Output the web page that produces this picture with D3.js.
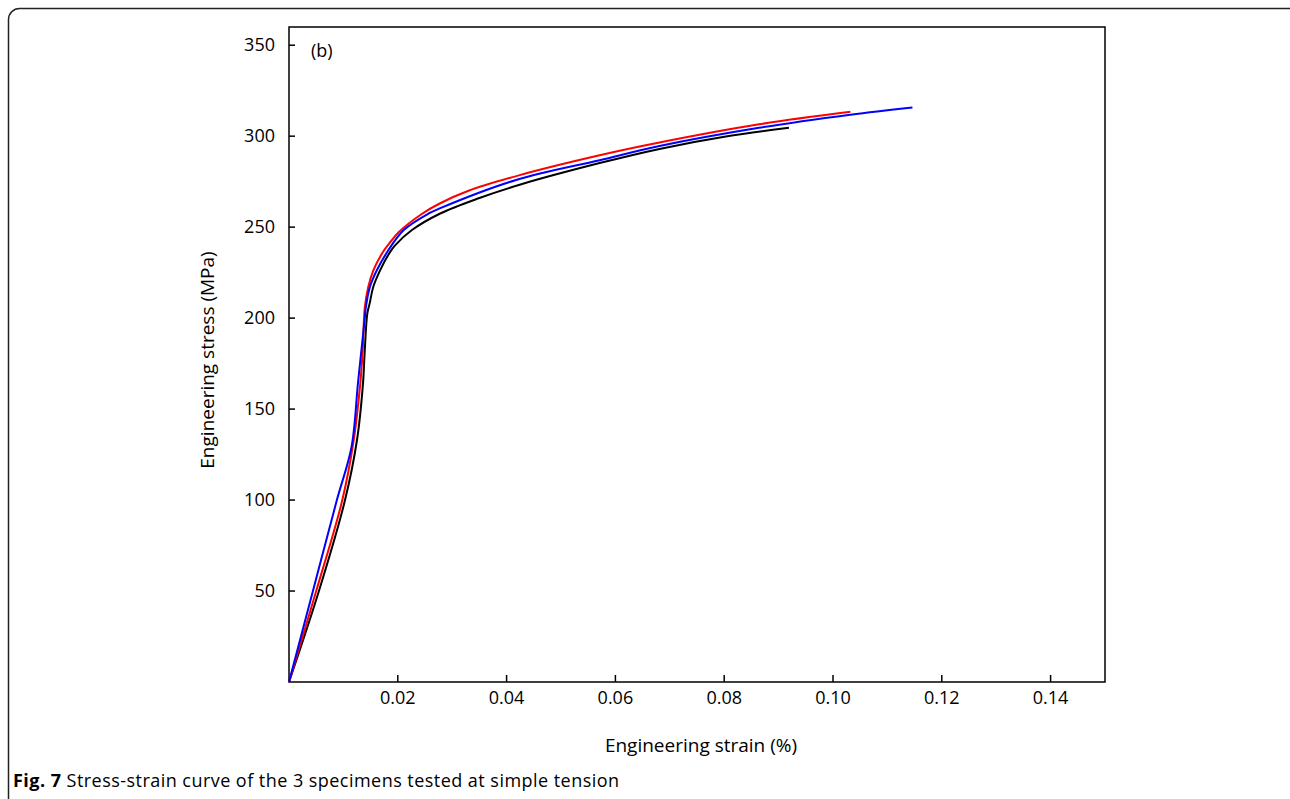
<!DOCTYPE html>
<html>
<head>
<meta charset="utf-8">
<script src="https://cdn.jsdelivr.net/npm/d3@7"></script>
<style>
  html, body { margin: 0; padding: 0; background: #fff; }
  svg { display: block; }
  text { font-family: "Open Sans", "Liberation Sans", sans-serif; fill: #000; }
</style>
</head>
<body>
<svg id="chart" width="1290" height="799"></svg>
<script>
// ---- data (strain, stress) ----
const blackStrain = [0, 0.0055, 0.0103, 0.0125, 0.0136, 0.0139, 0.0144, 0.01486, 0.01547, 0.0167, 0.0185, 0.0195, 0.0226, 0.0278, 0.0350, 0.0424, 0.0571, 0.0681, 0.0803, 0.0919];
const blackStress = [0, 50, 100, 133, 164, 180.6, 202.6, 208.5, 217, 226, 236, 240, 248.4, 257.5, 266, 273.3, 285.2, 293, 299.8, 304.6];

const redStrain = [0, 0.0050, 0.0098, 0.0119, 0.0131, 0.01352, 0.01394, 0.01456, 0.01547, 0.0173, 0.0185, 0.0202, 0.0244, 0.0277, 0.0330, 0.0424, 0.0571, 0.0681, 0.0864, 0.1032];
const redStress = [0, 50, 100, 133, 164, 180.6, 206, 217, 226, 236.5, 241.3, 247.3, 257.2, 263, 270, 278.6, 289.5, 296.5, 306.5, 313.4];

const blueStrain = [0, 0.0044, 0.0088, 0.0115, 0.0127, 0.0139, 0.01413, 0.01486, 0.0161, 0.0182, 0.0211, 0.0257, 0.0277, 0.0416, 0.0571, 0.0681, 0.0864, 0.1032, 0.1146];
const blueStress = [0, 50, 100, 129.3, 165, 199, 206, 217, 226, 237, 248.4, 257.5, 260.3, 275.8, 286.8, 294.6, 304.6, 311.8, 315.8];

const xTicks = [0.02, 0.04, 0.06, 0.08, 0.10, 0.12, 0.14];
const xTickLabels = ["0.02", "0.04", "0.06", "0.08", "0.10", "0.12", "0.14"];
const yTicks = [50, 100, 150, 200, 250, 300, 350];
const yTickLabels = ["50", "100", "150", "200", "250", "300", "350"];

const seriesNames = ["Specimen 1", "Specimen 2", "Specimen 3"];
const seriesColors = ["#000000", "#ff0000", "#0000ff"];

// ---- layout ----
const svg = d3.select("#chart");
const pLeft = 289, pRight = 1105, pTop = 27, pBottom = 682;

// outer rounded frame (extends off the page right/bottom)
svg.append("rect")
  .attr("x", 8.5).attr("y", 8.5)
  .attr("width", 1320).attr("height", 830)
  .attr("rx", 11).attr("ry", 11)
  .attr("fill", "none").attr("stroke", "#222").attr("stroke-width", 1.5);

const x = d3.scaleLinear().domain([0, 0.15]).range([pLeft, pRight]);
const y = d3.scaleLinear().domain([0, 360]).range([pBottom, pTop]);

// plot frame
svg.append("rect")
  .attr("x", pLeft).attr("y", pTop)
  .attr("width", pRight - pLeft).attr("height", pBottom - pTop)
  .attr("fill", "none").attr("stroke", "#000").attr("stroke-width", 1.5);

// x axis ticks (pointing inward)
svg.append("g").selectAll("line").data(xTicks).join("line")
  .attr("x1", d => x(d)).attr("x2", d => x(d))
  .attr("y1", pBottom).attr("y2", pBottom - 7)
  .attr("stroke", "#000").attr("stroke-width", 1.5);
svg.append("g").selectAll("text").data(xTicks).join("text")
  .attr("x", d => x(d)).attr("y", pBottom + 22)
  .attr("text-anchor", "middle").attr("font-size", 18)
  .text((d, i) => xTickLabels[i]);

// y axis ticks (pointing inward)
svg.append("g").selectAll("line").data(yTicks).join("line")
  .attr("x1", pLeft).attr("x2", pLeft + 6)
  .attr("y1", d => y(d)).attr("y2", d => y(d))
  .attr("stroke", "#000").attr("stroke-width", 1.5);
svg.append("g").selectAll("text").data(yTicks).join("text")
  .attr("x", pLeft - 14).attr("y", d => y(d))
  .attr("dy", "0.35em")
  .attr("text-anchor", "end").attr("font-size", 18)
  .text((d, i) => yTickLabels[i]);

// axis titles
svg.append("text")
  .attr("x", 701).attr("y", 752)
  .attr("text-anchor", "middle").attr("font-size", 19)
  .text("Engineering strain (%)");
svg.append("text")
  .attr("transform", "translate(214,360) rotate(-90)")
  .attr("text-anchor", "middle").attr("font-size", 19)
  .text("Engineering stress (MPa)");

// panel label
svg.append("text")
  .attr("x", 311).attr("y", 57)
  .attr("font-size", 18)
  .text("(b)");

// curves
const series = [
  { strain: blackStrain, stress: blackStress },
  { strain: redStrain, stress: redStress },
  { strain: blueStrain, stress: blueStress }
];
const line = d3.line()
  .x(d => x(d[0])).y(d => y(d[1]))
  .curve(d3.curveCatmullRom.alpha(0.5));
[0, 1, 2].forEach(i => {
  const s = series[i];
  const pts = s.strain.map((v, j) => [v, s.stress[j]]);
  svg.append("path")
    .datum(pts)
    .attr("d", line)
    .attr("fill", "none")
    .attr("stroke", seriesColors[i])
    .attr("stroke-width", 2)
    .attr("data-name", seriesNames[i]);
});

// caption
const cap = svg.append("text")
  .attr("x", 13).attr("y", 787)
  .attr("font-size", 18)
  .attr("textLength", 606)
  .attr("lengthAdjust", "spacing");
cap.append("tspan").attr("font-weight", "bold").text("Fig. 7");
cap.append("tspan").text(" Stress-strain curve of the 3 specimens tested at simple tension");
</script>
</body>
</html>
